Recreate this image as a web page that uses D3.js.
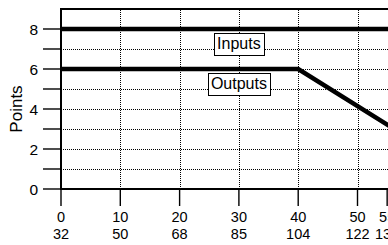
<!DOCTYPE html>
<html><head><meta charset="utf-8">
<script src="https://cdn.jsdelivr.net/npm/d3@7"></script>
<style>html,body{margin:0;padding:0;overflow:hidden;background:#fff}svg{display:block}</style>
</head><body>
<script>
const celsiusTicks = [0, 10, 20, 30, 40, 50, 55];
const fahrenheitLabels = ["32", "50", "68", "85", "104", "122", "131"];
const yMajorTicks = [0, 2, 4, 6, 8];
const yMinorTicks = [1, 3, 5, 7];
const gridX = [10, 20, 30, 40, 50];
const gridY = [1, 2, 3, 4, 5, 6, 7, 8];
const inputsLine = [[0, 8], [60, 8]];
const outputsLine = [[0, 6], [40, 6], [60, 2.3]];
const seriesLabels = [{text: "Inputs", x: 30, y: 7}, {text: "Outputs", x: 30, y: 5}];

const W = 388, H = 245;
const svg = d3.select("body").append("svg").attr("width", W).attr("height", H)
  .style("font-family", "'Liberation Sans', Arial, sans-serif");

const x = d3.scaleLinear().domain([0, 60]).range([61, 61 + 60 * 5.93]);
const y = d3.scaleLinear().domain([0, 9]).range([189, 9]);

// grid
svg.append("g").selectAll("line").data(gridY).join("line")
  .attr("x1", x(0)).attr("x2", x(60)).attr("y1", d => y(d) + 0.5).attr("y2", d => y(d) + 0.5)
  .attr("stroke", "#000").attr("stroke-width", 1).attr("stroke-dasharray", "1,1");
svg.append("g").selectAll("line").data(gridX).join("line")
  .attr("y1", y(0)).attr("y2", y(9)).attr("x1", d => Math.round(x(d)) + 0.5).attr("x2", d => Math.round(x(d)) + 0.5)
  .attr("stroke", "#000").attr("stroke-width", 1).attr("stroke-dasharray", "1,1");

// frame
svg.append("line").attr("x1", x(0)).attr("x2", x(0)).attr("y1", y(9) - 1).attr("y2", y(0) + 1).attr("stroke", "#000").attr("stroke-width", 2);
svg.append("line").attr("x1", x(0) - 1).attr("x2", x(60)).attr("y1", y(9)).attr("y2", y(9)).attr("stroke", "#000").attr("stroke-width", 2);
svg.append("line").attr("x1", x(0) - 1).attr("x2", x(60)).attr("y1", y(0)).attr("y2", y(0)).attr("stroke", "#000").attr("stroke-width", 2);

// y axis ticks
svg.append("g").selectAll("line").data(yMajorTicks.concat(yMinorTicks)).join("line")
  .attr("x1", 43).attr("x2", x(0)).attr("y1", d => y(d)).attr("y2", d => y(d))
  .attr("stroke", "#000").attr("stroke-width", 1.4);
svg.append("g").selectAll("text").data(yMajorTicks).join("text")
  .attr("x", 38).attr("y", d => y(d)).attr("dy", "0.36em").attr("text-anchor", "end")
  .attr("font-size", 15.5).text(d => d);
svg.append("text").attr("transform", `translate(22,${y(4)}) rotate(-90)`)
  .attr("text-anchor", "middle").attr("font-size", 17).text("Points");

// x axis ticks
svg.append("g").selectAll("line").data(celsiusTicks).join("line")
  .attr("x1", d => x(d)).attr("x2", d => x(d)).attr("y1", y(0)).attr("y2", 206)
  .attr("stroke", "#000").attr("stroke-width", 1.4);
svg.append("g").selectAll("text").data(celsiusTicks).join("text")
  .attr("x", d => x(d)).attr("y", 222).attr("text-anchor", "middle").attr("font-size", 14.5).text(d => d);
svg.append("g").selectAll("text").data(celsiusTicks).join("text")
  .attr("x", d => x(d)).attr("y", 238.5).attr("text-anchor", "middle").attr("font-size", 14.5)
  .text((d, i) => fahrenheitLabels[i]);

// series
const line = d3.line().x(d => x(d[0])).y(d => y(d[1]));
[inputsLine, outputsLine].forEach(s => {
  svg.append("path").datum(s).attr("d", line).attr("fill", "none")
    .attr("stroke", "#000").attr("stroke-width", 4.5).attr("stroke-linejoin", "miter");
});

// labels
seriesLabels.forEach(l => {
  const g = svg.append("g");
  const t = g.append("text").attr("x", x(l.x)).attr("y", y(l.y))
    .attr("text-anchor", "middle").attr("font-size", 16).text(l.text);
  const b = t.node().getBBox();
  const bx0 = Math.round(b.x - 3) + 0.5, bx1 = Math.round(b.x + b.width + 3) + 0.5;
  const by0 = Math.round(y(l.y) - 16.5) + 0.5, by1 = Math.round(y(l.y) + 5.7) + 0.5;
  g.insert("rect", "text").attr("x", bx0).attr("y", by0)
    .attr("width", bx1 - bx0).attr("height", by1 - by0)
    .attr("fill", "#fff").attr("stroke", "#000").attr("stroke-width", 1);
});
</script>
</body></html>
